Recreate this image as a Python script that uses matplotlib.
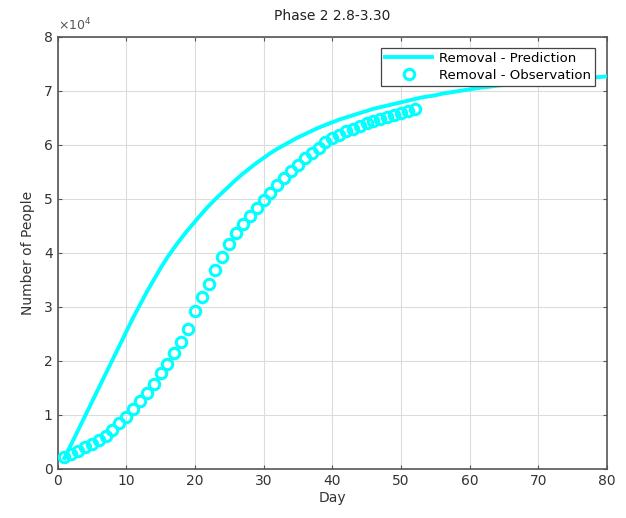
"""Phase 2 removal curve: model prediction vs observed data (MATLAB-style figure)."""

import matplotlib

matplotlib.use("Agg")
import matplotlib.pyplot as plt

# observed removals (recovered + dead), days 1..52, units of 1e4 people
obs_days = list(range(1, 53))
obs_removal = [
    0.22, 0.28, 0.34, 0.40, 0.46, 0.53, 0.62, 0.73, 0.85, 0.97,
    1.11, 1.25, 1.40, 1.58, 1.77, 1.95, 2.14, 2.35, 2.60, 2.92,
    3.18, 3.42, 3.68, 3.93, 4.17, 4.37, 4.54, 4.69, 4.84, 4.98,
    5.12, 5.25, 5.39, 5.51, 5.63, 5.75, 5.85, 5.95, 6.05, 6.13,
    6.19, 6.25, 6.30, 6.35, 6.40, 6.44, 6.48, 6.52, 6.56, 6.60,
    6.63, 6.67,
]

# model prediction, days 1..80, units of 1e4 people
pred_days = list(range(1, 81))
pred_removal = [
    0.20, 0.46, 0.72, 0.98, 1.24, 1.50, 1.76, 2.02, 2.28, 2.54,
    2.80, 3.04, 3.28, 3.50, 3.72, 3.92, 4.10, 4.27, 4.43, 4.58,
    4.73, 4.87, 5.00, 5.12, 5.24, 5.36, 5.47, 5.57, 5.67, 5.76,
    5.85, 5.93, 6.00, 6.07, 6.14, 6.20, 6.26, 6.32, 6.37, 6.42,
    6.47, 6.51, 6.55, 6.59, 6.63, 6.67, 6.70, 6.73, 6.76, 6.79,
    6.82, 6.85, 6.88, 6.90, 6.92, 6.95, 6.97, 6.99, 7.01, 7.03,
    7.05, 7.07, 7.08, 7.10, 7.11, 7.13, 7.14, 7.15, 7.16, 7.18,
    7.19, 7.20, 7.21, 7.22, 7.23, 7.24, 7.25, 7.25, 7.26, 7.27,
]

scale = 1e4
x_ticks = [0, 10, 20, 30, 40, 50, 60, 70, 80]
y_ticks = [0, 1, 2, 3, 4, 5, 6, 7, 8]

fig = plt.figure(figsize=(6.26, 5.18), dpi=100)
ax = fig.add_axes([0.0919, 0.0946, 0.8777, 0.834])

cyan = "#00ffff"
ax.plot(
    pred_days,
    [v * scale for v in pred_removal],
    color=cyan,
    linewidth=2.8,
    label="Removal - Prediction",
    zorder=3,
)
ax.plot(
    obs_days,
    [v * scale for v in obs_removal],
    linestyle="none",
    marker="o",
    markersize=7.5,
    markerfacecolor="none",
    markeredgecolor=cyan,
    markeredgewidth=2.2,
    label="Removal - Observation",
    zorder=3,
)

ax.set_xlim(0, 80)
ax.set_ylim(0, 8 * scale)
ax.set_xticks(x_ticks)
ax.set_yticks([t * scale for t in y_ticks])
ax.set_yticklabels([str(t) for t in y_ticks])
ax.tick_params(direction="in", length=3, color="#555555", labelsize=10,
               labelcolor="#333333", top=True, right=True)

ax.grid(True, color="#dcdcdc", linewidth=0.8)
ax.set_axisbelow(True)
for spine in ax.spines.values():
    spine.set_color("#555555")
    spine.set_linewidth(1.2)

ax.set_title("Phase 2 2.8-3.30", fontsize=10, color="#222222", pad=12)
ax.set_xlabel("Day", fontsize=10, color="#333333", labelpad=2)
ax.set_ylabel("Number of People", fontsize=10, color="#333333", labelpad=6)
ax.text(0.0, 1.008, r"$\times10^{4}$", transform=ax.transAxes, fontsize=9,
        color="#555555", ha="left", va="bottom")

legend = ax.legend(
    loc="upper right",
    bbox_to_anchor=(0.978, 0.975),
    borderaxespad=0.0,
    fontsize=9.5,
    handlelength=3.6,
    borderpad=0.3,
    labelspacing=0.3,
    handletextpad=0.5,
    fancybox=False,
    framealpha=1.0,
    edgecolor="#444444",
)
legend.get_frame().set_linewidth(0.9)

fig.savefig("out.png", dpi=100)
plt.close(fig)
